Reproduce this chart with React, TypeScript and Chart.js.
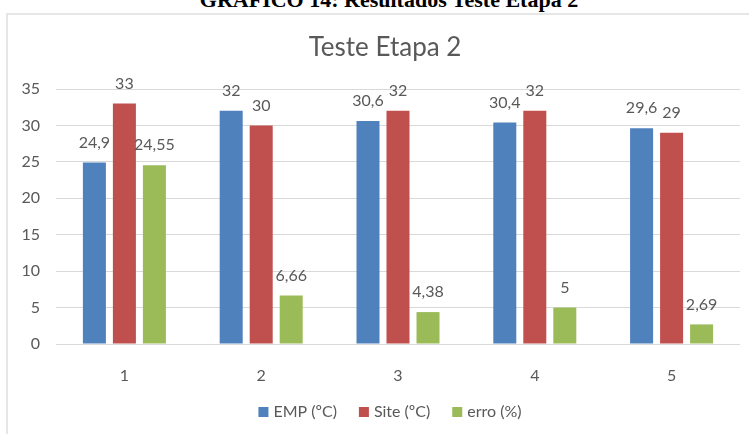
import React, { useEffect, useRef } from "react";
import { Chart, registerables } from "chart.js";

Chart.register(...registerables);

const categories = ["1", "2", "3", "4", "5"];
const empValues = [24.9, 32, 30.6, 30.4, 29.6];
const siteValues = [33, 30, 32, 32, 29];
const erroValues = [24.55, 6.66, 4.38, 5, 2.69];
const seriesNames = ["EMP (ºC)", "Site (ºC)", "erro (%)"];
const seriesColors = ["#4F81BD", "#C0504D", "#9BBB59"];
const chartTitle = "Teste Etapa 2";
const caption = "GRÁFICO 14: Resultados Teste Etapa 2";
const yMin = 0;
const yMax = 35;
const yStep = 5;

const TEXT = "#595959";
const FONT = "Lato";

const fmt = (v: number) => String(v).replace(".", ",");

const extrasPlugin = {
  id: "extras",
  afterDatasetsDraw(chart: any) {
    const ctx = chart.ctx;
    ctx.save();
    ctx.font = `16px ${FONT}`;
    ctx.fillStyle = TEXT;
    ctx.textAlign = "center";
    ctx.textBaseline = "middle";
    chart.data.datasets.forEach((ds: any, di: number) => {
      const meta = chart.getDatasetMeta(di);
      meta.data.forEach((bar: any, i: number) => {
        ctx.fillText(fmt(ds.data[i]), bar.x, bar.y - 20);
      });
    });
    ctx.restore();
  },
  afterDraw(chart: any) {
    const ctx = chart.ctx;
    ctx.save();
    // title
    ctx.font = `26px ${FONT}`;
    ctx.fillStyle = TEXT;
    ctx.textAlign = "center";
    ctx.textBaseline = "middle";
    ctx.fillText(chartTitle, 385, 48);
    // legend
    ctx.font = `16px ${FONT}`;
    const box = 10;
    const gapBoxText = 5;
    const gapItems = 22;
    const widths = seriesNames.map((n) => ctx.measureText(n).width);
    const total =
      widths.reduce((a, b) => a + b, 0) +
      seriesNames.length * (box + gapBoxText) +
      gapItems * (seriesNames.length - 1);
    let x = 390 - total / 2;
    const cy = 412;
    ctx.textAlign = "left";
    seriesNames.forEach((n, i) => {
      ctx.fillStyle = seriesColors[i];
      ctx.fillRect(x, cy - box / 2, box, box);
      x += box + gapBoxText;
      ctx.fillStyle = TEXT;
      ctx.fillText(n, x, cy);
      x += widths[i] + gapItems;
    });
    ctx.restore();
  },
};

export default function App() {
  const ref = useRef<HTMLCanvasElement | null>(null);
  useEffect(() => {
    if (!ref.current) return;
    const values = [empValues, siteValues, erroValues];
    const chart = new Chart(ref.current, {
      type: "bar",
      data: {
        labels: categories,
        datasets: values.map((d, i) => ({
          label: seriesNames[i],
          data: d,
          backgroundColor: seriesColors[i],
          borderWidth: 0,
          categoryPercentage: 0.658,
          barPercentage: 0.767,
        })),
      },
      options: {
        responsive: false,
        animation: false,
        layout: { padding: { left: 6, top: 89, right: 9, bottom: 50 } },
        plugins: {
          legend: { display: false },
          title: { display: false },
          tooltip: { enabled: false },
        },
        scales: {
          x: {
            grid: { display: false },
            border: { display: false },
            ticks: { color: TEXT, font: { family: FONT, size: 16 }, padding: 14 },
            afterFit: (s: any) => {
              s.height = 40;
            },
          },
          y: {
            min: yMin,
            max: yMax,
            grid: { color: "#d9d9d9", drawTicks: false, lineWidth: 1 },
            border: { display: false },
            ticks: {
              stepSize: yStep,
              color: TEXT,
              font: { family: FONT, size: 16 },
              padding: 16,
            },
            afterFit: (s: any) => {
              s.width = 50;
            },
          },
        },
      },
      plugins: [extrasPlugin],
    });
    return () => chart.destroy();
  }, []);

  return (
    <div
      style={{
        position: "fixed",
        left: 0,
        top: 0,
        width: 749,
        height: 434,
        background: "#fff",
        overflow: "hidden",
      }}
    >
      <div
        style={{
          position: "absolute",
          left: 0,
          width: 778,
          top: -11,
          textAlign: "center",
          fontFamily: "'Liberation Serif', serif",
          fontWeight: "bold",
          fontSize: 22,
          lineHeight: "22px",
          color: "#000",
          whiteSpace: "nowrap",
        }}
      >
        {caption}
      </div>
      <div
        style={{
          position: "absolute",
          left: 6,
          top: 13,
          width: 800,
          height: 500,
          border: "2px solid #e6e6e6",
        }}
      />
      <canvas
        ref={ref}
        width={749}
        height={434}
        style={{ position: "absolute", left: 0, top: 0 }}
      />
    </div>
  );
}
